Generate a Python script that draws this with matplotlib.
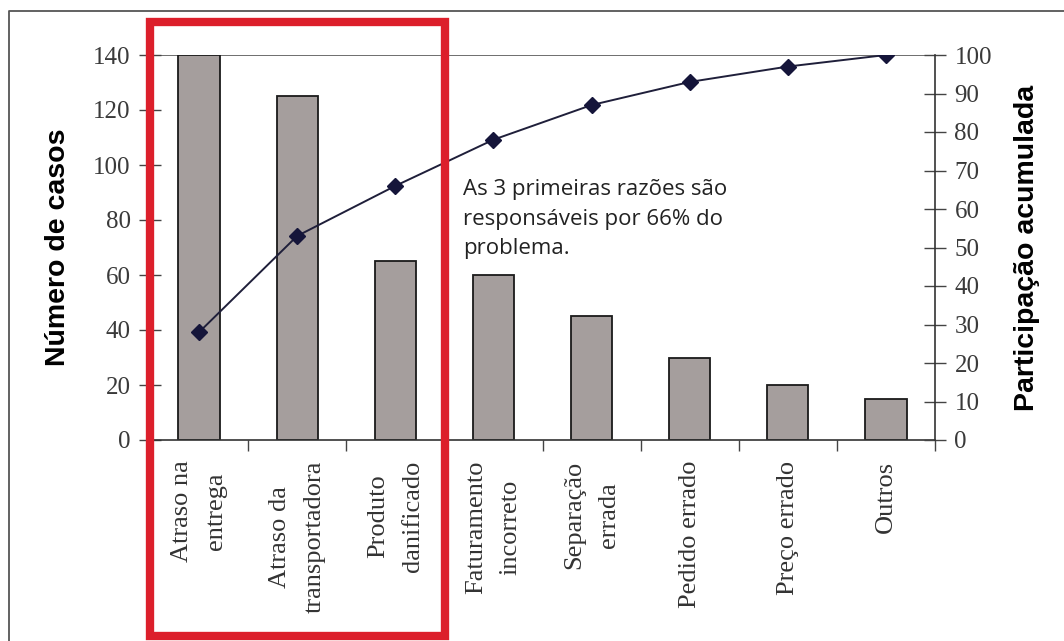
import matplotlib
matplotlib.use("Agg")
import matplotlib.pyplot as plt
from matplotlib.patches import Rectangle
from matplotlib.lines import Line2D

# Pareto data: complaint causes and number of cases
categories = [
    "Atraso na\nentrega",
    "Atraso da\ntransportadora",
    "Produto\ndanificado",
    "Faturamento\nincorreto",
    "Separação\nerrada",
    "Pedido errado",
    "Preço errado",
    "Outros",
]
cases = [140, 125, 65, 60, 45, 30, 20, 15]
cumulative_pct = [28, 53, 66, 78, 87, 93, 97, 100]
left_ticks = [0, 20, 40, 60, 80, 100, 120, 140]
right_ticks = [0, 10, 20, 30, 40, 50, 60, 70, 80, 90, 100]
note = "As 3 primeiras razões são\nresponsáveis por 66% do\nproblema."

W, H = 1064, 641
fig = plt.figure(figsize=(W / 100, H / 100), dpi=100)
fig.patch.set_facecolor("white")

serif = ["Liberation Serif", "DejaVu Serif"]
sans = ["Liberation Sans", "DejaVu Sans"]

def fx(px):
    return px / W

def fy(py):
    return 1 - py / H

ax = fig.add_axes([fx(150), fy(440), fx(935) - fx(150), fy(55) - fy(440)])
x = list(range(len(categories)))

ax.bar(x, cases, width=0.42, color="#a59e9d", edgecolor="#1a1a1a", linewidth=1.3, zorder=2)
ax.set_xlim(-0.5, len(categories) - 0.5)
ax.set_ylim(0, 140)
ax.set_yticks(left_ticks)
ax.set_yticklabels([str(v) for v in left_ticks], fontfamily=serif, fontsize=18, color="#3a3a3a")
ax.tick_params(axis="y", direction="inout", length=16, width=1.0, color="#444444", pad=6)

# category boundaries carry the x ticks; labels sit at the bar centres
ax.set_xticks([i + 0.5 for i in x[:-1]] + [len(x) - 0.5, -0.5])
ax.set_xticklabels([])
ax.tick_params(axis="x", direction="out", length=8, width=1.0, color="#444444")
for i, lab in enumerate(categories):
    ax.text(i, -7.5, lab, rotation=90, ha="center", va="top", multialignment="center",
            fontfamily=serif, fontsize=19, color="#333333", linespacing=1.75)

for s in ("top", "right"):
    ax.spines[s].set_visible(False)
ax.spines["left"].set_color("#444444")
ax.spines["bottom"].set_color("#333333")
ax.spines["bottom"].set_linewidth(1.2)
ax.axhline(140, color="#555555", linewidth=1.2, zorder=1)

ax.set_ylabel("Número de casos", fontfamily=sans, fontweight="bold", fontsize=20.5, labelpad=16)

ax2 = ax.twinx()
ax2.set_ylim(0, 100)
ax2.set_yticks(right_ticks)
ax2.set_yticklabels([str(v) for v in right_ticks], fontfamily=serif, fontsize=18, color="#3a3a3a")
ax2.tick_params(axis="y", direction="inout", length=16, width=1.0, color="#444444", pad=6)
for s in ("top", "left", "bottom"):
    ax2.spines[s].set_visible(False)
ax2.spines["right"].set_color("#333333")
ax2.spines["right"].set_linewidth(1.2)
ax2.plot(x, cumulative_pct, color="#1f1f3a", linewidth=1.4, marker="D", markersize=8,
         markerfacecolor="#15153a", markeredgecolor="#15153a", zorder=3)
ax2.set_ylabel("Participação acumulada", fontfamily=sans, fontweight="bold", fontsize=20.5,
               labelpad=16)

# callout text
fig.text(fx(463), fy(219), note, ha="left", va="center", fontfamily=["Open Sans", "DejaVu Sans"],
         fontsize=16, color="#222222", linespacing=1.55)

# highlight of the first three causes
fig.patches.append(Rectangle((fx(150), fy(636)), fx(445) - fx(150), fy(22) - fy(636),
                             transform=fig.transFigure, fill=False, edgecolor="#dc1f2b",
                             linewidth=6, zorder=10))

# outer frame
fig.lines.append(Line2D([fx(9), fx(9), fx(1064)], [fy(641), fy(11), fy(11)],
                        transform=fig.transFigure, color="#555555", linewidth=1.3))

fig.savefig("out.png", dpi=100, facecolor="white")
